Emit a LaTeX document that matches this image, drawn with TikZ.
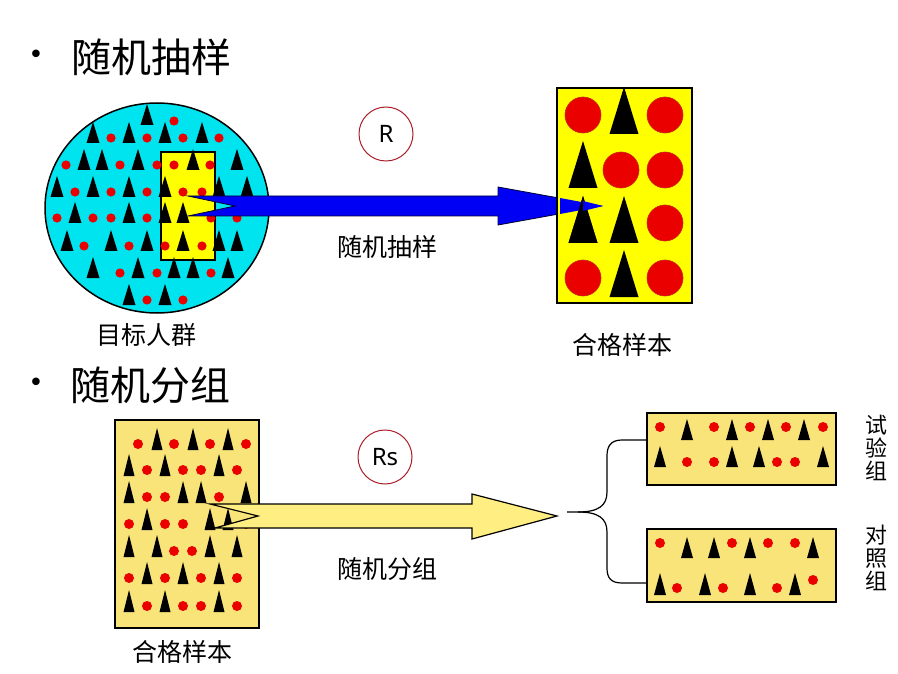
\documentclass[tikz,border=0pt]{standalone}
\usepackage{fontspec}
\newfontfamily\cjk{Noto Sans CJK SC}
\newfontfamily\lat{Noto Sans}
\newfontfamily\dejavu{DejaVu Sans}
\definecolor{cyanfill}{RGB}{0,228,240}
\definecolor{yel}{RGB}{255,255,0}
\definecolor{paley}{RGB}{249,228,122}
\definecolor{arrowy}{RGB}{255,238,130}
\definecolor{reddot}{RGB}{235,0,0}
\definecolor{redline}{RGB}{200,40,20}
\definecolor{bluea}{RGB}{0,0,245}
\definecolor{rcirc}{RGB}{170,30,40}
\newcommand\tri[4]{\fill[black] ({#1-#3/2},{#2}) -- ({#1},{#2-#4}) -- ({#1+#3/2},{#2}) -- cycle;}
\newcommand\rdot[3]{\fill[reddot] ({#1},{#2}) circle[radius=#3pt];}
\begin{document}
\begin{tikzpicture}[x=1pt,y=-1pt,
  boxstyle/.style={draw=black, line width=1.8pt, inner sep=0pt},
  title/.style={font=\cjk\fontsize{40}{40}\selectfont, inner sep=0pt, anchor=west},
  lab/.style={font=\cjk\fontsize{25}{25}\selectfont, inner sep=0pt},
  vlab/.style={font=\cjk\fontsize{22}{23}\selectfont, inner sep=0pt, align=center},
  rc/.style={circle, draw=rcirc, line width=1pt, minimum size=54pt, inner sep=0pt, font=\lat\bfseries\fontsize{24}{24}\selectfont}]
\useasboundingbox (0,0) rectangle (898,674);
\fill[white] (0,0) rectangle (898,674);

% titles
\node[font=\dejavu\fontsize{26}{26}\selectfont, inner sep=0pt] (b1) at (36,57) {•};
\node[title] (t1) at (71,57) {随机抽样};
\node[font=\dejavu\fontsize{26}{26}\selectfont, inner sep=0pt] (b2) at (36,385) {•};
\node[title] (t2) at (70,385) {随机分组};

% population circle
\draw[fill=cyanfill, line width=1.5pt] (157,208) ellipse [x radius=112pt, y radius=105pt];
\node[boxstyle, fill=yel, minimum width=54pt, minimum height=108pt] (sel) at (188,206) {};
\foreach \y/\xs in {120/{147},138/{93,129,165,202},165/{84,102,138,193,237},192/{57,93,129,165,219,247},218/{75,129,165,183},246/{67,111,147,183,219,237},273/{93,138,174,193,228},300/{129,165}}
  {\foreach \x in \xs {\tri{\x}{\y+5}{13}{21}}}
\foreach \y/\xs in {121/{174},138/{111,147,183,219},165/{66,120,157,174,210},192/{75,111,147,183,202},218/{57,93,111,147,211,237},246/{84,129,165,202},273/{120,157,211},300/{147,183}}
  {\foreach \x in \xs {\rdot{\x}{\y}{4.6}}}

% blue arrow
\draw[fill=bluea, draw=black!80!blue, line width=0.8pt, line join=miter]
  (188,196) -- (498,196) -- (498,187) -- (603,206) -- (498,225) -- (498,216) -- (188,216) -- (235,206) -- cycle;

% sample box
\node[boxstyle, fill=yel, minimum width=135pt, minimum height=215pt] (samp) at (624.5,195.5) {};
\foreach \x/\y in {583/115,665/115,621/170,665/170,665/223,583/278,665/278}
  {\draw[fill=reddot, draw=redline, line width=0.6pt] (\x,\y) circle[radius=18pt];}
\tri{624}{134}{29}{47}
\tri{583}{188}{29}{47}
\tri{583}{243}{29}{47}
\tri{624}{243}{29}{47}
\tri{624}{297}{29}{47}
\fill[bluea] (560,198) -- (603,206) -- (560,214) -- cycle;
\tri{583}{243}{29}{47}
\fill[bluea] (583,201) -- (603,206) -- (583,211) -- cycle;

\node[rc] (r1) at (386,134) {R};
\node[lab] (l1) at (387,247) {随机抽样};
\node[lab] (l2) at (146,335) {目标人群};
\node[lab] (l3) at (622,345) {合格样本};

% qualified sample box (bottom)
\node[boxstyle, fill=paley, minimum width=144pt, minimum height=208pt] (qs) at (187,524) {};
\foreach \y/\xs in {444/{157,193,228},470/{129,165,219},497/{129,183,201,246},524/{147,210,228},551/{129,157,210,237},578/{147,183,219},606/{129,165,219}}
  {\foreach \x in \xs {\tri{\x}{\y+6}{11}{22}}}
\foreach \y/\xs in {444/{138,174,210,246},470/{147,183,201,237},497/{147,165,219},524/{129,165,183,246},551/{174,192},578/{129,165,201,237},606/{147,183,201,237}}
  {\foreach \x in \xs {\rdot{\x}{\y}{5}}}

% yellow arrow
\draw[fill=arrowy, draw=black, line width=1.2pt, line join=miter]
  (210,504) -- (472,504) -- (472,494) -- (557,516) -- (472,539) -- (472,528) -- (215,528) -- (258,516) -- cycle;

\node[rc] (r2) at (385,457) {Rs};
\node[lab] (l4) at (387,569) {随机分组};
\node[lab] (l5) at (182,652) {合格样本};

% groups
\node[boxstyle, fill=paley, minimum width=189pt, minimum height=72pt] (g1) at (741.5,449) {};
\node[boxstyle, fill=paley, minimum width=189pt, minimum height=73pt] (g2) at (741.5,565.5) {};
\foreach \x in {687,732,768,804} {\tri{\x}{440}{12}{21}}
\foreach \x in {660,714,750,786,823} {\rdot{\x}{427}{5}}
\foreach \x in {660,732,759,823} {\tri{\x}{467}{12}{21}}
\foreach \x in {687,714,777,795} {\rdot{\x}{462}{5}}
\foreach \x in {687,714,750,813} {\tri{\x}{558}{12}{21}}
\foreach \x in {660,732,768,795} {\rdot{\x}{543}{5}}
\foreach \x in {660,705,750,795} {\tri{\x}{595}{12}{22}}
\foreach \x/\y in {677/588,723/588,777/588,813/580} {\rdot{\x}{\y}{5}}

% brace
\coordinate (bt) at (567,512);
\coordinate (e1) at (g1.west |- 0,440);
\coordinate (e2) at (g2.west |- 0,583);
\draw[line width=1.2pt] (bt) -- (578,512) .. controls (598,512) and (607,506) .. (607,492)
  -- (607,456) .. controls (607,446) and (611,440) .. (622,440) -- (e1);
\draw[line width=1.2pt] (578,512) .. controls (598,512) and (607,518) .. (607,532)
  -- (607,568) .. controls (607,578) and (611,583) .. (622,583) -- (e2);

\node[vlab] (v1) at (876,448) {试\\验\\组};
\node[vlab] (v2) at (876,558) {对\\照\\组};
\end{tikzpicture}
\end{document}
